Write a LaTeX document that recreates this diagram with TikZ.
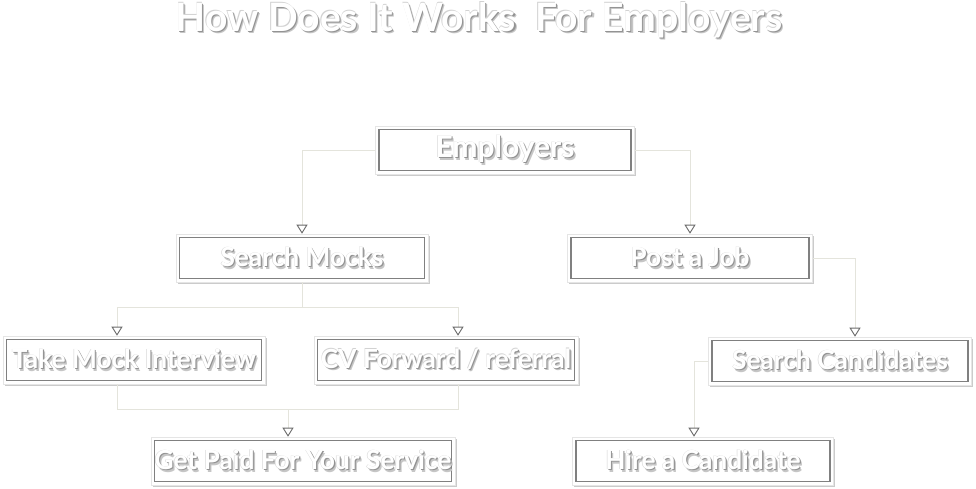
\documentclass[tikz,border=0pt]{standalone}
\usepackage{fontspec}
\setmainfont{Lato}
\usetikzlibrary{arrows.meta, shadows}
\definecolor{linkgray}{HTML}{E4E4DC}
\definecolor{tipgray}{HTML}{6A6A6A}
\definecolor{rimgray}{HTML}{808080}
\newcommand{\glowtext}[1]{\leavevmode\rlap{\hspace{2.2pt}\raisebox{-2.4pt}{\textcolor{gray!45}{#1}}}\rlap{\hspace{1.1pt}\raisebox{-1.2pt}{\textcolor{gray!85}{#1}}}\rlap{\hspace{-0.4pt}\raisebox{0.4pt}{\textcolor{gray!35}{#1}}}\textcolor{white}{#1}}
\tikzset{
  stepbox/.style={fill=white, draw=gray!20, line width=0.6pt, minimum height=48pt, inner sep=2pt,
    font=\fontsize{26.3}{31}\selectfont\bfseries,
    drop shadow={shadow xshift=1.8pt, shadow yshift=-1.8pt, fill=gray!80},
    path picture={\draw[rimgray, line width=1.4pt]
      ([shift={(3.5pt,3.5pt)}]path picture bounding box.south west) rectangle
      ([shift={(-3.5pt,-3.5pt)}]path picture bounding box.north east);}},
  link/.style={draw=linkgray, line width=1pt,
    -{Triangle[width=11pt, length=9pt, color=tipgray, fill=white, line width=0.9pt]}},
  plain/.style={draw=linkgray, line width=1pt}
}
\begin{document}
\begin{tikzpicture}[x=1pt, y=-1pt]
\useasboundingbox[fill=white] (0,0) rectangle (976,488);
% title
\node (title) at (479,21) {\fontsize{39}{45}\selectfont\bfseries\glowtext{How Does It Works~~For Employers}};
% boxes
\node[stepbox, minimum width=259pt, font=\fontsize{30}{35}\selectfont\bfseries] (emp) at (505,150) {\glowtext{Employers}};
\node[stepbox, minimum width=252pt] (smock) at (302,258) {\glowtext{Search Mocks}};
\node[stepbox, minimum width=245pt] (job) at (690,258) {\glowtext{Post a Job}};
\node[stepbox, minimum width=262pt] (take) at (134,360) {\glowtext{Take Mock Interview}};
\node[stepbox, minimum width=264pt] (cv) at (446,360) {\glowtext{CV Forward / referral}};
\node[stepbox, minimum width=263pt] (cand) at (840,361) {\glowtext{Search Candidates}};
\node[stepbox, minimum width=304pt] (paid) at (303,461) {\glowtext{Get Paid For Your Service}};
\node[stepbox, minimum width=261pt] (hire) at (703,461) {\glowtext{Hire a Candidate}};
% connectors
\coordinate (split) at (302,307);
\coordinate (merge) at (288,409);
\draw[link] (emp.west) -| (smock.north);
\draw[link] (emp.east) -| (job.north);
\draw[plain] (smock.south) -- (split);
\draw[link] (split) -| ([xshift=-17pt]take.north);
\draw[link] (split) -| ([xshift=12pt]cv.north);
\draw[plain] ([xshift=-17pt]take.south) |- (merge);
\draw[plain] ([xshift=12pt]cv.south) |- (merge);
\draw[link] (merge) -- ([xshift=-15pt]paid.north);
\draw[link] (job.east) -| ([xshift=15pt]cand.north);
\draw[link] (cand.west) -| ([xshift=-9pt]hire.north);
\end{tikzpicture}
\end{document}
